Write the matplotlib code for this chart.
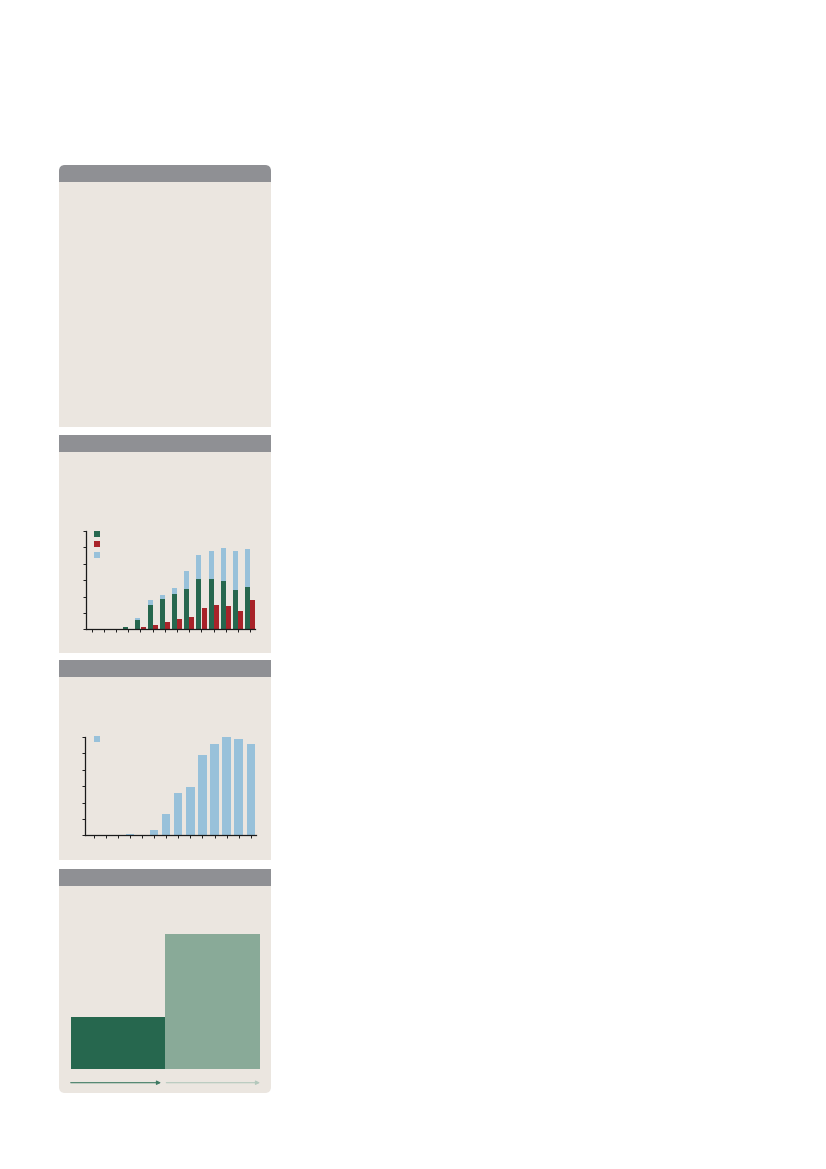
import matplotlib
matplotlib.use("Agg")
import matplotlib.pyplot as plt
from matplotlib.patches import Rectangle, FancyBboxPatch
import numpy as np

# ---- data ----
categories = list(range(14))
green_vals = [0, 0, 0, 0.14, 0.57, 1.49, 1.86, 2.18, 2.49, 3.10, 3.08, 2.92, 2.41, 2.59]
blue_stack_vals = [0, 0, 0, 0.0, 0.12, 0.29, 0.22, 0.33, 1.08, 1.43, 1.72, 2.04, 2.39, 2.31]
red_vals = [0, 0, 0, 0.04, 0.12, 0.29, 0.43, 0.61, 0.76, 1.33, 1.51, 1.41, 1.14, 1.80]
blue_vals = [0, 0, 0, 0.06, 0, 0.35, 1.29, 2.61, 2.92, 4.90, 5.57, 6.10, 5.86, 5.57]
step_vals = [1.0, 2.6]

W, H = 826, 1169
GRAY = "#8f9094"
BEIGE = "#ebe6e0"
DGREEN = "#26674e"
RED = "#a82329"
BLUE = "#98c1da"
LGREEN = "#89aa98"

fig = plt.figure(figsize=(W / 100, H / 100), dpi=100)
fig.patch.set_facecolor("white")

bg = fig.add_axes([0, 0, 1, 1], zorder=0)
bg.set_xlim(0, W)
bg.set_ylim(H, 0)
bg.axis("off")

def rect(x0, y0, x1, y1, color):
    bg.add_patch(Rectangle((x0, y0), x1 - x0, y1 - y0, facecolor=color, edgecolor="none"))

def rrect(x0, y0, x1, y1, color, r=6):
    bg.add_patch(FancyBboxPatch((x0 + r, y0 + r), x1 - x0 - 2 * r, y1 - y0 - 2 * r,
                                boxstyle=f"round,pad={r}", facecolor=color, edgecolor="none"))

L, R = 59, 271
# panel 1
rrect(L, 165, R, 195, GRAY)
rect(L, 182, R, 427, BEIGE)
# panel 2
rect(L, 435, R, 452, GRAY)
rect(L, 452, R, 653, BEIGE)
# panel 3
rect(L, 660, R, 677, GRAY)
rect(L, 677, R, 860, BEIGE)
# panel 4
rect(L, 869, R, 886, GRAY)
rrect(L, 886, R, 1093, BEIGE)
rect(L, 886, R, 900, BEIGE)

def px_axes(x0, x1, ytop, ybot):
    ax = fig.add_axes([x0 / W, 1 - ybot / H, (x1 - x0) / W, (ybot - ytop) / H], zorder=2)
    ax.set_facecolor("none")
    return ax

def style_axes(ax):
    for s in ["top", "right"]:
        ax.spines[s].set_visible(False)
    for s in ["left", "bottom"]:
        ax.spines[s].set_linewidth(0.9)
        ax.spines[s].set_color("#1a1a1a")
    ax.tick_params(axis="both", length=2.2, width=0.7, color="#1a1a1a",
                   labelleft=False, labelbottom=False)

# ---- chart 2: grouped / stacked bars ----
ax2 = px_axes(86.3, 254.7, 531, 629.3)
x = np.array(categories, dtype=float)
bw = 0.41
ax2.bar(x - 0.21, green_vals, width=bw, color=DGREEN)
ax2.bar(x - 0.21, blue_stack_vals, width=bw, bottom=green_vals, color=BLUE)
ax2.bar(x + 0.21, red_vals, width=bw, color=RED)
ax2.set_xlim(-0.44, 13.36)
ax2.set_ylim(0, 6)
ax2.set_xticks(x)
ax2.set_yticks(np.arange(0, 7, 1))
style_axes(ax2)
for yy, c in zip([533.7, 544.3, 555.3], [DGREEN, RED, BLUE]):
    rect(94, yy - 3, 100, yy + 3, c)

# ---- chart 3: single bars ----
ax3 = px_axes(84.7, 255.7, 737, 835.3)
ax3.bar(x, blue_vals, width=0.69, color=BLUE)
ax3.set_xlim(-0.745, 13.41)
ax3.set_ylim(0, 6)
ax3.set_xticks(x)
ax3.set_yticks(np.arange(0, 7, 1))
style_axes(ax3)
rect(94, 736, 100, 742, BLUE)

# ---- chart 4: step bars ----
ax4 = px_axes(70.7, 260, 933.7, 1069)
ax4.bar([0, 1], step_vals, width=1.0, align="edge", color=[DGREEN, LGREEN])
ax4.set_xlim(0, 2)
ax4.set_ylim(0, max(step_vals))
ax4.axis("off")

bg.annotate("", xy=(161, 1082.7), xytext=(70.7, 1082.7),
            arrowprops=dict(arrowstyle="-|>", color="#3e7a62", lw=0.8,
                            mutation_scale=6, shrinkA=0, shrinkB=0))
bg.annotate("", xy=(260, 1082.7), xytext=(166.3, 1082.7),
            arrowprops=dict(arrowstyle="-|>", color="#b3c8bc", lw=0.8,
                            mutation_scale=6, shrinkA=0, shrinkB=0))

fig.savefig("out.png", dpi=100, facecolor="white")
